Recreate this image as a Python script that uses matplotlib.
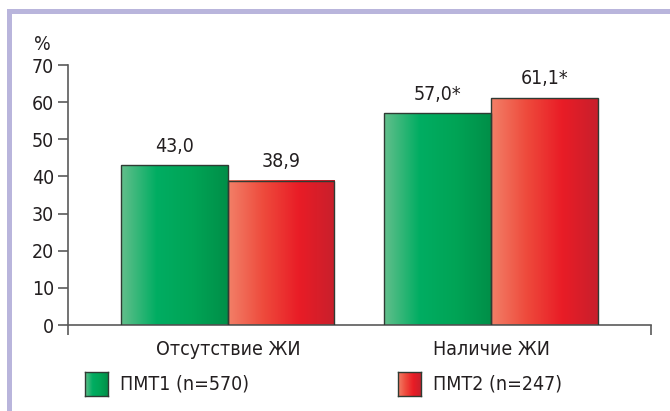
import numpy as np
import matplotlib
matplotlib.use('Agg')
import matplotlib.pyplot as plt
from matplotlib.colors import LinearSegmentedColormap
from matplotlib.patches import Rectangle

# данные
categories = ['Отсутствие ЖИ', 'Наличие ЖИ']
series_names = ['ПМТ1 (n=570)', 'ПМТ2 (n=247)']
pmt1 = [43.0, 57.0]
pmt2 = [38.9, 61.1]
pmt1_labels = ['43,0', '57,0*']
pmt2_labels = ['38,9', '61,1*']
yticks = [0, 10, 20, 30, 40, 50, 60, 70]

# узкий шрифт
plt.rcParams['font.family'] = ['DejaVu Sans']
plt.rcParams['font.stretch'] = 'condensed'
text_color = '#231f20'
axis_color = '#5a5a5a'

green_cmap = LinearSegmentedColormap.from_list('g', ['#63bf8c', '#00ad62', '#00a456', '#008f48'])
red_cmap = LinearSegmentedColormap.from_list('r', ['#f28068', '#ee4a3c', '#e91c26', '#c8202c'])

fig = plt.figure(figsize=(6.7, 4.11), dpi=100)
ax = fig.add_axes([0.1015, 0.2092, 0.8701, 0.6326])

grad = np.linspace(0, 1, 256).reshape(1, -1)

def gradient_bars(x, values, cmap):
    bars = ax.bar(x, values, width=0.405, facecolor='none', edgecolor='#2f3b33',
                  linewidth=1.0, zorder=3)
    for b in bars:
        x0, w, h = b.get_x(), b.get_width(), b.get_height()
        ax.imshow(grad, cmap=cmap, aspect='auto', extent=(x0, x0 + w, 0, h),
                  zorder=2, interpolation='bicubic')
    return bars

x = np.arange(len(categories))
w = 0.405
b1 = gradient_bars(x - w / 2, pmt1, green_cmap)
b2 = gradient_bars(x + w / 2, pmt2, red_cmap)

# подписи значений
for bars, labels in [(b1, pmt1_labels), (b2, pmt2_labels)]:
    for b, lab in zip(bars, labels):
        ax.text(b.get_x() + b.get_width() / 2, b.get_height() + 2.6, lab,
                ha='center', va='bottom', fontsize=14, color=text_color)

ax.set_xlim(-0.608, 1.608)
ax.set_ylim(0, 70)
ax.set_yticks(yticks)
ax.set_yticklabels([str(t) for t in yticks], fontsize=14, color=text_color)
ax.set_xticks(x)
ax.set_xticklabels(categories, fontsize=14, color=text_color)
ax.tick_params(axis='x', which='major', length=0, pad=11)
ax.set_xticks([-0.608, 1.608], minor=True)
ax.tick_params(axis='x', which='minor', length=7, color=axis_color, width=1.2)
ax.tick_params(axis='y', length=7, color=axis_color, width=1.2, pad=3)
for s in ['top', 'right']:
    ax.spines[s].set_visible(False)
for s in ['left', 'bottom']:
    ax.spines[s].set_color(axis_color)
    ax.spines[s].set_linewidth(1.2)

fig.text(42 / 670, 1 - 45 / 411, '%', ha='center', va='center', fontsize=14, color=text_color)

# легенда
for name, cmap, sx, tx in [(series_names[0], green_cmap, 85, 120),
                           (series_names[1], red_cmap, 398, 433)]:
    lax = fig.add_axes([sx / 670, 1 - 396 / 411, 23 / 670, 24 / 411])
    lax.imshow(grad, cmap=cmap, aspect='auto', interpolation='bicubic')
    lax.set_xticks([])
    lax.set_yticks([])
    for s in lax.spines.values():
        s.set_color('#2f3b33')
        s.set_linewidth(1.0)
    fig.text(tx / 670, 1 - 384 / 411, name, ha='left', va='center',
             fontsize=14, color=text_color)

# рамка
border = '#b9b5dc'
fig.patches.append(Rectangle((7 / 670, 0), 5 / 670, 1 - 9 / 411, transform=fig.transFigure,
                             facecolor=border, edgecolor='none'))
fig.patches.append(Rectangle((7 / 670, 1 - 14 / 411), 1, 5 / 411, transform=fig.transFigure,
                             facecolor=border, edgecolor='none'))

fig.savefig('out.png', dpi=100)
